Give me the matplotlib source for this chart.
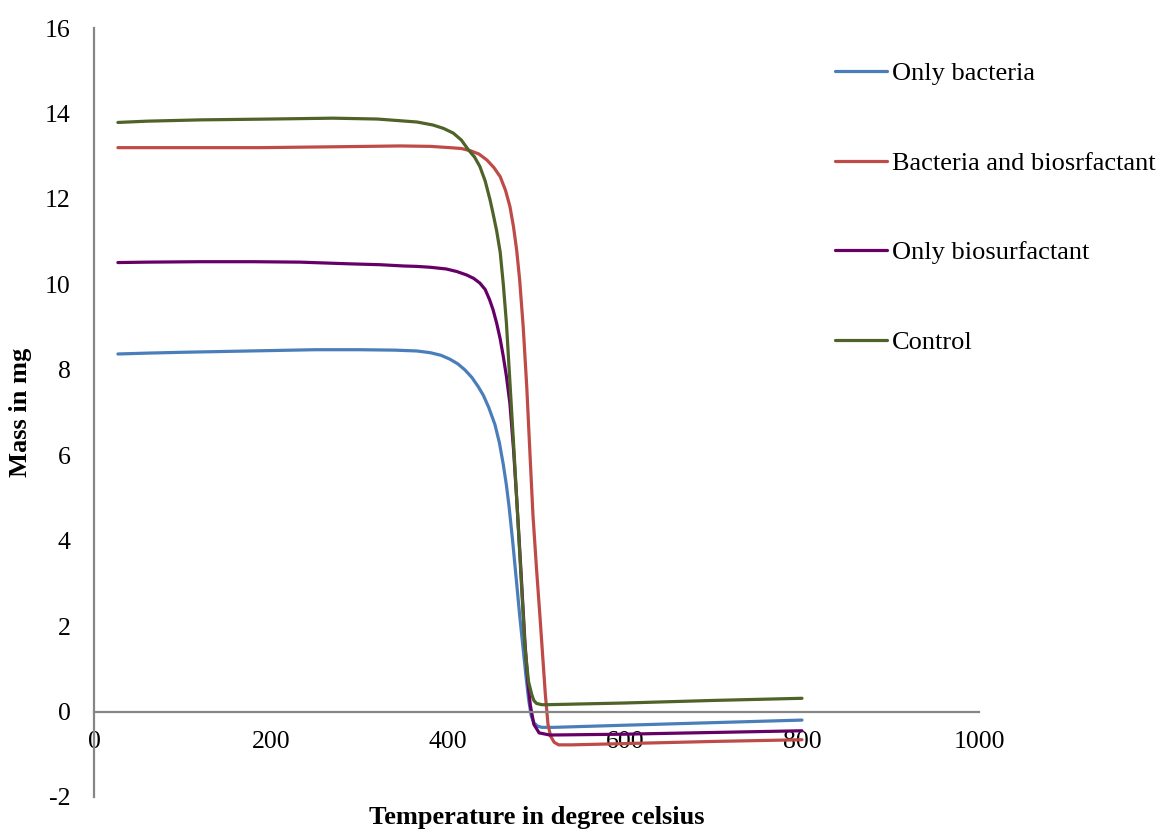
import matplotlib
matplotlib.use("Agg")
import matplotlib.pyplot as plt

plt.rcParams['font.family'] = ['Liberation Serif', 'DejaVu Serif']
plt.rcParams['axes.unicode_minus'] = False

# Thermogravimetric readings: temperature (deg C) and remaining mass (mg)
temp_bacteria = [27, 60, 100, 150, 200, 250, 300, 340, 365, 380, 392, 402, 411, 419, 427,
                 434, 440, 446, 453, 458, 462.5, 466, 469, 473, 477.6, 481, 485, 488, 491,
                 494, 497, 501, 506, 520, 600, 700, 800]
mass_bacteria = [8.37, 8.39, 8.41, 8.43, 8.45, 8.47, 8.47, 8.46, 8.44, 8.40, 8.34, 8.25, 8.14,
                 8.00, 7.82, 7.61, 7.40, 7.12, 6.72, 6.30, 5.78, 5.30, 4.80, 4.00, 3.00, 2.25,
                 1.45, 0.85, 0.30, -0.10, -0.26, -0.34, -0.37, -0.37, -0.32, -0.26, -0.20]

temp_both = [27, 100, 188, 270, 346, 380, 402, 415, 425, 435, 444, 452, 459, 465, 470, 474,
             477.6, 481, 485, 489, 492.7, 496, 500, 504, 507, 510, 513, 516, 520, 525, 540,
             600, 700, 800]
mass_both = [13.20, 13.20, 13.20, 13.22, 13.24, 13.23, 13.20, 13.18, 13.13, 13.05, 12.91,
             12.73, 12.52, 12.20, 11.82, 11.35, 10.80, 10.10, 9.00, 7.60, 6.00, 4.60, 3.35,
             2.20, 1.30, 0.40, -0.30, -0.58, -0.72, -0.78, -0.78, -0.75, -0.70, -0.66]

temp_surf = [27, 60, 120, 180, 233, 289, 323, 350, 365, 380, 398, 410, 421, 429, 436, 442,
             447, 451, 455, 459, 462.5, 466, 470, 474, 478, 482, 487, 490, 493, 497, 503,
             515, 600, 700, 800]
mass_surf = [10.51, 10.52, 10.53, 10.53, 10.52, 10.48, 10.46, 10.43, 10.42, 10.40, 10.36,
             10.30, 10.22, 10.14, 10.03, 9.88, 9.64, 9.40, 9.09, 8.72, 8.31, 7.85, 7.20,
             6.15, 4.85, 3.45, 1.60, 0.75, 0.15, -0.30, -0.50, -0.55, -0.53, -0.49, -0.45]

temp_control = [27, 60, 120, 200, 270, 320, 346, 365, 383, 395, 406, 415, 423, 430, 436,
                442, 447.5, 451, 455, 459, 462.5, 466, 470, 474, 478, 482, 487, 491, 494.6,
                497, 500, 506, 512, 600, 700, 800]
mass_control = [13.79, 13.82, 13.85, 13.87, 13.89, 13.87, 13.83, 13.80, 13.73, 13.65, 13.54,
                13.38, 13.15, 12.98, 12.76, 12.42, 11.98, 11.65, 11.25, 10.75, 10.00, 9.10,
                7.70, 6.30, 4.85, 3.35, 1.50, 0.70, 0.40, 0.26, 0.19, 0.16, 0.16, 0.20, 0.26,
                0.31]

series_labels = ["Only bacteria", "Bacteria and biosrfactant", "Only biosurfactant", "Control"]
series_colors = ["#4A7EBB", "#BE4B48", "#660066", "#4F6228"]

x_ticks = [0, 200, 400, 600, 800, 1000]
y_ticks = [-2, 0, 2, 4, 6, 8, 10, 12, 14, 16]

fig = plt.figure(figsize=(11.62, 8.32), dpi=100)
ax = fig.add_axes([0.0809, 0.0421, 0.7616, 0.9242])

series = [(temp_bacteria, mass_bacteria), (temp_both, mass_both),
          (temp_surf, mass_surf), (temp_control, mass_control)]
for (t, m), lab, col in zip(series, series_labels, series_colors):
    ax.plot(t, m, color=col, lw=2.3, label=lab, solid_capstyle='round')

ax.set_xlim(0, 1000)
ax.set_ylim(-2, 16)
ax.set_xticks(x_ticks)
ax.set_yticks(y_ticks)

axis_gray = "#868686"
for side in ("top", "right"):
    ax.spines[side].set_visible(False)
ax.spines["bottom"].set_position(("data", 0))
for side in ("left", "bottom"):
    ax.spines[side].set_color(axis_gray)
    ax.spines[side].set_linewidth(1.6)

ax.tick_params(axis="x", length=0, pad=14, labelsize=18.5)
ax.tick_params(axis="y", length=0, pad=17, labelsize=18.5)

ax.set_xlabel("Temperature in degree celsius", fontsize=19, fontweight="bold")
ax.xaxis.set_label_coords(0.5, -0.012)
ax.xaxis.label.set_va("top")
ax.set_ylabel("Mass in mg", fontsize=19, fontweight="bold")
ax.yaxis.set_label_coords(-0.070, 0.5)

leg = ax.legend(loc="upper left", bbox_to_anchor=(835 / 1162, 1 - 62 / 832),
                bbox_transform=fig.transFigure, frameon=False, fontsize=19,
                handlelength=1.97, handletextpad=0.2, labelspacing=2.5,
                borderpad=0, borderaxespad=0)
for line in leg.get_lines():
    line.set_linewidth(2.3)

fig.savefig("out.png", dpi=100)
